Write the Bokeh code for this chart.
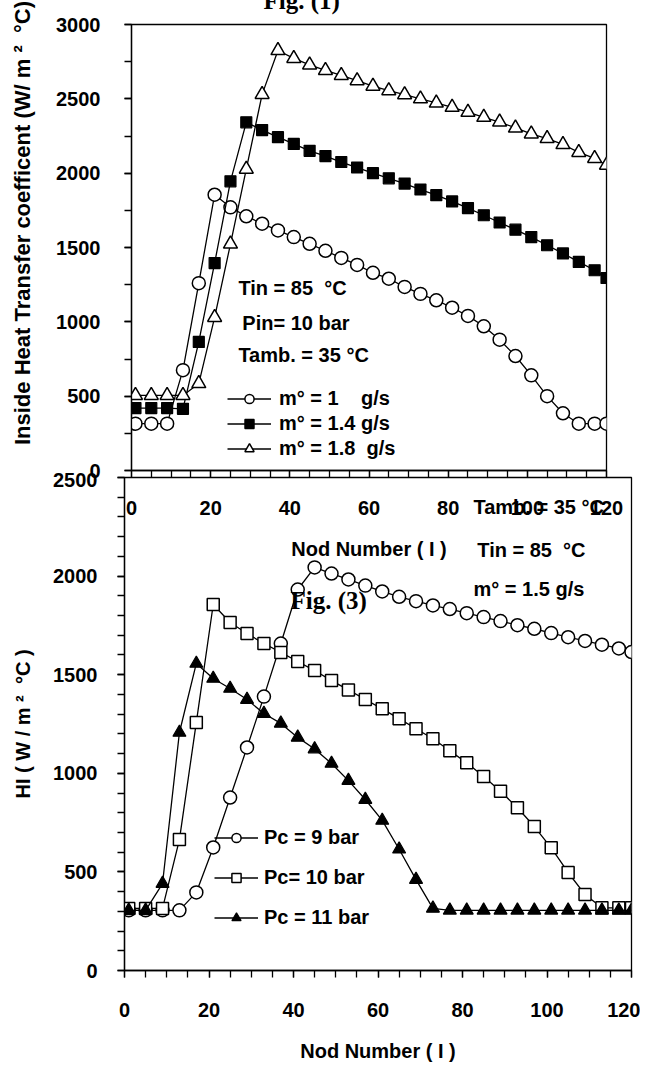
from bokeh.plotting import figure
from bokeh.models import Range1d, FixedTicker, Label, Legend, LegendItem
from bokeh.embed import file_html
from bokeh.resources import INLINE

# ---------------- data ----------------
nodes = [1, 5, 9, 13, 17, 21, 25, 29, 33, 37, 41, 45, 49, 53, 57, 61, 65, 69, 73, 77,
         81, 85, 89, 93, 97, 101, 105, 109, 113, 117, 120]

# upper chart: inside heat transfer coefficient for three mass flow rates
hi_m1 = [315, 315, 315, 675, 1260, 1855, 1770, 1710, 1660, 1615, 1570, 1525, 1478, 1430,
         1383, 1330, 1290, 1235, 1188, 1145, 1095, 1040, 970, 880, 770, 640, 500, 385,
         315, 315, 315]
hi_m14 = [420, 420, 420, 415, 865, 1395, 1945, 2342, 2290, 2242, 2197, 2150, 2115, 2075,
          2038, 2000, 1965, 1930, 1890, 1852, 1810, 1765, 1717, 1668, 1620, 1570, 1515,
          1460, 1403, 1347, 1295]
hi_m18 = [505, 505, 505, 505, 585, 1030, 1523, 2027, 2530, 2825, 2772, 2728, 2691, 2658,
          2622, 2585, 2555, 2528, 2500, 2472, 2443, 2410, 2376, 2344, 2304, 2264, 2233,
          2193, 2140, 2099, 2054]

# lower chart: HI for three condenser pressures
hi_pc9 = [305, 305, 305, 305, 396, 624, 877, 1131, 1389, 1658, 1932, 2044, 2013, 1983,
          1952, 1922, 1895, 1873, 1851, 1833, 1812, 1792, 1772, 1751, 1733, 1711, 1690,
          1671, 1652, 1633, 1615]
hi_pc10 = [315, 315, 315, 664, 1258, 1856, 1765, 1709, 1658, 1613, 1567, 1521, 1470, 1423,
           1374, 1327, 1277, 1226, 1175, 1114, 1053, 984, 909, 825, 730, 622, 497, 385,
           318, 318, 318]
hi_pc11 = [305, 305, 441, 1207, 1557, 1481, 1430, 1374, 1303, 1253, 1182, 1123, 1050, 963,
           867, 761, 615, 461, 315, 305, 305, 305, 305, 305, 305, 305, 305, 305, 305, 305,
           305]

x_major = [0, 20, 40, 60, 80, 100, 120]
x_minor = [0, 5, 10, 15, 20, 25, 30, 35, 40, 45, 50, 55, 60, 65, 70, 75, 80, 85, 90, 95,
           100, 105, 110, 115, 120]
top_y_major = [0, 500, 1000, 1500, 2000, 2500, 3000]
top_y_minor = [0, 250, 500, 750, 1000, 1250, 1500, 1750, 2000, 2250, 2500, 2750, 3000]
bot_y_major = [0, 500, 1000, 1500, 2000, 2500]
bot_y_minor = list(range(0, 2501, 100))

NB = "\u00a0"
top_labels = ["m\u00b0 = 1" + NB * 4 + "g/s", "m\u00b0 = 1.4 g/s", "m\u00b0 = 1.8" + NB * 2 + "g/s"]
bot_labels = ["Pc = 9 bar", "Pc= 10 bar", "Pc = 11 bar"]

FONT = "Liberation Sans"
SERIF = "Liberation Serif"


def style_axes(p, xt, xm, yt, ym, x_std, y_std):
    p.xaxis.ticker = FixedTicker(ticks=xt, minor_ticks=xm)
    p.yaxis.ticker = FixedTicker(ticks=yt, minor_ticks=ym)
    for ax in (p.xaxis[0], p.yaxis[0]):
        ax.axis_line_color = "black"
        ax.axis_line_width = 1.3
        ax.major_tick_line_color = "black"
        ax.major_tick_line_width = 1.3
        ax.major_tick_in = 0
        ax.major_tick_out = 7
        ax.minor_tick_line_color = "black"
        ax.minor_tick_line_width = 1.3
        ax.minor_tick_in = 0
        ax.minor_tick_out = 7
        ax.major_label_text_font = FONT
        ax.major_label_text_font_style = "bold"
        ax.major_label_text_font_size = "20px"
        ax.major_label_text_color = "black"
        ax.axis_label_text_font = FONT
        ax.axis_label_text_font_style = "bold"
        ax.axis_label_text_font_size = "20px"
        ax.axis_label_text_color = "black"
    p.xaxis.major_label_standoff = x_std
    p.yaxis.major_label_standoff = y_std
    p.grid.visible = False
    p.outline_line_color = "black"
    p.outline_line_width = 1.3


def txt(p, x, y, text, size="20px", font=FONT, baseline="middle", **kw):
    p.add_layout(Label(x=x, y=y, text=text, text_font=font, text_font_style="bold",
                       text_font_size=size, text_color="black",
                       text_baseline=baseline, **kw))


def make_legend(items, loc, spacing, standoff):
    return Legend(items=items, location=loc, glyph_width=44, glyph_height=23,
                  label_height=23, spacing=spacing, padding=0, margin=0,
                  label_standoff=standoff, border_line_alpha=0, background_fill_alpha=0,
                  label_text_font=FONT, label_text_font_style="bold",
                  label_text_font_size="20px", label_text_color="black")


# ---------------- upper chart ----------------
p1 = figure(width=640, height=647, x_range=Range1d(0, 120), y_range=Range1d(0, 3000),
            output_backend="svg", toolbar_location=None, title="Fig. (1)",
            min_border_left=131, min_border_right=34, min_border_top=50,
            min_border_bottom=150, margin=(-27, 0, 0, 0))
p1.background_fill_color = "white"
p1.border_fill_color = "white"
p1.title.align = "left"
p1.title.offset = 132
p1.title.standoff = 22
p1.title.text_font = SERIF
p1.title.text_font_style = "bold"
p1.title.text_font_size = "25px"
p1.title.text_color = "black"
style_axes(p1, x_major, x_minor, top_y_major, top_y_minor, 23, 24)
p1.xaxis.axis_label = "Nod Number ( I )"
p1.xaxis.axis_label_standoff = 20
p1.yaxis.axis_label = NB * 8 + "Inside Heat Transfer coefficent (W/ m" + NB + "\u00b2" + NB * 2 + "\u00b0C)"
p1.yaxis.axis_label_text_font_size = "22px"
p1.yaxis.axis_label_standoff = 18

l1 = p1.line(nodes, hi_m1, line_color="black", line_width=1.3)
s1 = p1.scatter(nodes, hi_m1, marker="circle", size=13, fill_color="white",
                line_color="black", line_width=1.5)
l2 = p1.line(nodes, hi_m14, line_color="black", line_width=1.3)
s2 = p1.scatter(nodes, hi_m14, marker="square", size=11, fill_color="black",
                line_color="black", line_width=1.2)
l3 = p1.line(nodes, hi_m18, line_color="black", line_width=1.3)
s3 = p1.scatter(nodes, hi_m18, marker="triangle", size=14, fill_color="white",
                line_color="black", line_width=1.5)

p1.add_layout(make_legend([LegendItem(label=top_labels[0], renderers=[l1, s1]),
                           LegendItem(label=top_labels[1], renderers=[l2, s2]),
                           LegendItem(label=top_labels[2], renderers=[l3, s3])],
                          (96, 10), 2, 8))

txt(p1, 27.0, 1228, "Tin = 85" + NB * 2 + "\u00b0C")
txt(p1, 28.0, 993, "Pin= 10 bar")
txt(p1, 27.0, 779, "Tamb. = 35 \u00b0C")

# ---------------- lower chart ----------------
p2 = figure(width=640, height=596, x_range=Range1d(0, 120), y_range=Range1d(0, 2500),
            output_backend="svg", toolbar_location=None,
            min_border_left=124, min_border_right=9, min_border_top=5,
            min_border_bottom=98, margin=(-148, 0, 0, 0))
p2.background_fill_alpha = 0
p2.border_fill_alpha = 0
style_axes(p2, x_major, x_minor, bot_y_major, bot_y_minor, 25, 20)
p2.xaxis.axis_label = "Nod Number ( I )"
p2.xaxis.axis_label_standoff = 20
p2.yaxis.axis_label = "HI ( W / m" + NB + "\u00b2" + NB * 2 + "\u00b0C )"
p2.yaxis.axis_label_standoff = 16

m1 = p2.line(nodes, hi_pc9, line_color="black", line_width=1.3)
t1 = p2.scatter(nodes, hi_pc9, marker="circle", size=13, fill_color="white",
                line_color="black", line_width=1.5)
m2 = p2.line(nodes, hi_pc10, line_color="black", line_width=1.3)
t2 = p2.scatter(nodes, hi_pc10, marker="square", size=12, fill_color="white",
                line_color="black", line_width=1.5)
m3 = p2.line(nodes, hi_pc11, line_color="black", line_width=1.3)
t3 = p2.scatter(nodes, hi_pc11, marker="triangle", size=13, fill_color="black",
                line_color="black", line_width=1.2)

p2.add_layout(make_legend([LegendItem(label=bot_labels[0], renderers=[m1, t1]),
                           LegendItem(label=bot_labels[1], renderers=[m2, t2]),
                           LegendItem(label=bot_labels[2], renderers=[m3, t3])],
                          (90, 41), 17, 6))

txt(p2, 82.6, 2348, "Tamb. = 35 \u00b0C")
txt(p2, 83.5, 2130, "Tin = 85" + NB * 2 + "\u00b0C")
txt(p2, 82.6, 1937, "m\u00b0 = 1.5 g/s")
txt(p2, 39.3, 1876, "Fig. (3)", size="25px", font=SERIF)

open("out.html", "w").write(file_html([p1, p2], INLINE))
